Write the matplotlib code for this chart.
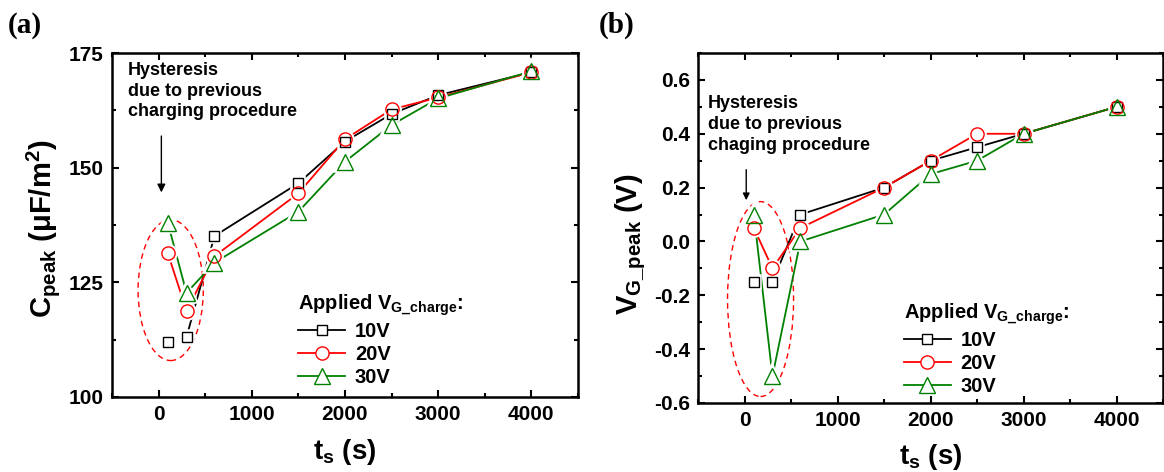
import matplotlib
matplotlib.use("Agg")
import matplotlib.pyplot as plt
from matplotlib.patches import Ellipse
from matplotlib.ticker import MultipleLocator

plt.rcParams['font.family'] = ['Liberation Sans', 'DejaVu Sans']
plt.rcParams['font.weight'] = 'bold'
plt.rcParams['mathtext.fontset'] = 'custom'
plt.rcParams['mathtext.rm'] = 'Liberation Sans:bold'
plt.rcParams['mathtext.it'] = 'Liberation Sans:bold'
plt.rcParams['mathtext.bf'] = 'Liberation Sans:bold'
plt.rcParams['mathtext.sf'] = 'Liberation Sans:bold'

# ---- data ----
t_s = [100, 300, 600, 1500, 2000, 2500, 3000, 4000]
series_labels = ['10V', '20V', '30V']
colors = ['black', 'red', 'green']
markers = ['s', 'o', '^']
marker_sizes = [7.5, 9.5, 11.5]

c_peak_10V = [112.1, 113.1, 135.1, 146.6, 155.7, 161.7, 165.8, 170.8]
c_peak_20V = [131.3, 118.8, 130.7, 144.4, 156.2, 162.7, 165.3, 170.8]
c_peak_30V = [137.9, 122.7, 129.3, 140.4, 151.3, 159.3, 165.1, 171.0]

vg_peak_10V = [-0.15, -0.15, 0.10, 0.20, 0.30, 0.35, 0.40, 0.50]
vg_peak_20V = [0.05, -0.10, 0.05, 0.20, 0.30, 0.40, 0.40, 0.50]
vg_peak_30V = [0.10, -0.50, 0.00, 0.10, 0.25, 0.30, 0.40, 0.50]

# index from which each series' connecting line starts (10V not joined at first point)
line_start = [1, 0, 0]

fig = plt.figure(figsize=(11.64, 4.72), dpi=100)
ax_a = fig.add_axes([0.0962, 0.1589, 0.4003, 0.7288])
ax_b = fig.add_axes([0.5997, 0.1462, 0.3995, 0.7415])


def draw(ax, data):
    handles = []
    for vals, lab, col, mk, ms, st in zip(data, series_labels, colors, markers,
                                          marker_sizes, line_start):
        ax.plot(t_s[st:], vals[st:], color=col, lw=1.3, zorder=2)
        # white halo to leave a small gap between lines and markers
        ax.plot(t_s, vals, linestyle='none', marker=mk, markersize=ms,
                markerfacecolor='white', markeredgecolor='white',
                markeredgewidth=4.0, zorder=2.5)
        ax.plot(t_s, vals, linestyle='none', marker=mk, markersize=ms,
                markerfacecolor='none', markeredgecolor=col,
                markeredgewidth=1.0, zorder=3)
        h, = ax.plot([], [], color=col, lw=1.3, marker=mk, markersize=ms,
                     markerfacecolor='white', markeredgecolor=col,
                     markeredgewidth=1.0, label=lab)
        handles.append(h)
    return handles


def style(ax):
    ax.set_xlim(-500, 4500)
    ax.xaxis.set_major_locator(MultipleLocator(1000))
    ax.xaxis.set_minor_locator(MultipleLocator(500))
    ax.tick_params(which='both', direction='in', top=True, right=True,
                   width=1.5)
    ax.tick_params(which='major', length=5, labelsize=15, pad=6)
    ax.tick_params(which='minor', length=3)
    for s in ax.spines.values():
        s.set_linewidth(1.8)
    for lbl in ax.get_xticklabels() + ax.get_yticklabels():
        lbl.set_fontweight('bold')


def legend(ax, handles, anchor):
    leg = ax.legend(handles=handles, title='Applied V$_{G\\_charge}$:',
                    loc='upper left', bbox_to_anchor=anchor,
                    frameon=False, fontsize=14.5, title_fontsize=14.5,
                    handlelength=2.3, handletextpad=0.5, labelspacing=0.2,
                    borderpad=0.2)
    leg._legend_box.align = 'left'
    for t in leg.get_texts():
        t.set_fontweight('bold')
    leg.get_title().set_fontweight('bold')
    return leg


# ---- panel (a) ----
ha = draw(ax_a, [c_peak_10V, c_peak_20V, c_peak_30V])
style(ax_a)
ax_a.set_ylim(100, 175)
ax_a.yaxis.set_major_locator(MultipleLocator(25))
ax_a.yaxis.set_minor_locator(MultipleLocator(12.5))
ax_a.set_xlabel('t$_{s}$ (s)', fontsize=20, fontweight='bold')
ax_a.set_ylabel('C$_{peak}$ (μF/m$^{2}$)', fontsize=21, fontweight='bold')
ax_a.xaxis.set_label_coords(0.5, -0.116)
ax_a.yaxis.set_label_coords(-0.108, 0.49)
ax_a.add_patch(Ellipse((130, 123.3), 700, 30.7, fill=False, edgecolor='red',
                       linestyle=(0, (4, 3)), lw=1.0, zorder=1))
ax_a.text(0.034, 0.975, 'Hysteresis\ndue to previous\ncharging procedure',
          transform=ax_a.transAxes, ha='left', va='top', fontsize=13,
          fontweight='bold', linespacing=1.3)
ax_a.annotate('', xy=(30, 144), xytext=(30, 157.5),
              arrowprops=dict(arrowstyle='-|>', color='black', lw=1.0,
                              mutation_scale=12))
legend(ax_a, ha, (0.37, 0.345))
fig.text(0.007, 0.975, '(a)', family='Liberation Serif', fontsize=21,
         fontweight='bold', ha='left', va='top')

# ---- panel (b) ----
hb = draw(ax_b, [vg_peak_10V, vg_peak_20V, vg_peak_30V])
style(ax_b)
ax_b.set_ylim(-0.6, 0.7)
ax_b.yaxis.set_major_locator(MultipleLocator(0.2))
ax_b.yaxis.set_minor_locator(MultipleLocator(0.1))
ax_b.yaxis.set_major_formatter(matplotlib.ticker.FormatStrFormatter('%.1f'))
ax_b.set_xlabel('t$_{s}$ (s)', fontsize=20, fontweight='bold')
ax_b.set_ylabel('V$_{G\\_peak}$ (V)', fontsize=21, fontweight='bold')
ax_b.xaxis.set_label_coords(0.5, -0.111)
ax_b.yaxis.set_label_coords(-0.108, 0.455)
ax_b.add_patch(Ellipse((172, -0.214), 710, 0.724, fill=False, edgecolor='red',
                       linestyle=(0, (4, 3)), lw=1.0, zorder=1))
ax_b.text(0.0215, 0.88, 'Hysteresis\ndue to previous\nchaging procedure',
          transform=ax_b.transAxes, ha='left', va='top', fontsize=13,
          fontweight='bold', linespacing=1.3)
ax_b.annotate('', xy=(18, 0.143), xytext=(18, 0.277),
              arrowprops=dict(arrowstyle='-|>', color='black', lw=1.0,
                              mutation_scale=10))
legend(ax_b, hb, (0.413, 0.33))
fig.text(0.514, 0.975, '(b)', family='Liberation Serif', fontsize=21,
         fontweight='bold', ha='left', va='top')

fig.savefig('out.png', dpi=100)
